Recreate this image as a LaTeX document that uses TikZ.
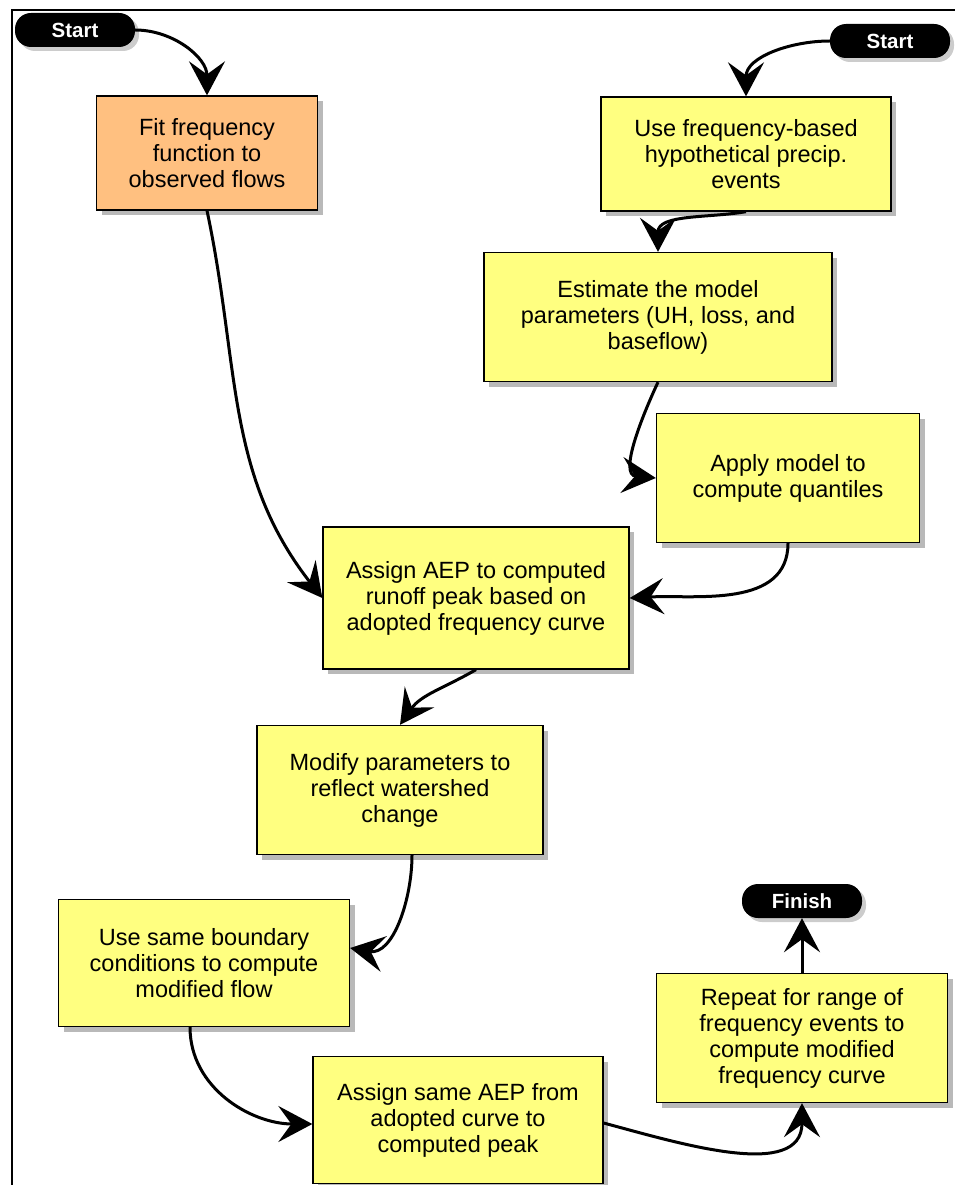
\documentclass[tikz,border=0pt]{standalone}
\usepackage{fontspec}
\setmainfont{Liberation Sans}
\usepackage{tikz}
\usetikzlibrary{arrows.meta}
\usetikzlibrary{shadows}
\definecolor{boxyellow}{RGB}{255,255,128}
\definecolor{boxorange}{RGB}{255,192,128}
\tikzset{>=latex}
\tikzstyle{stepbox} = [draw = black, line width = 1.3pt, fill = boxyellow, inner sep = 0, align = center, font = \fontsize{23.5}{26}\selectfont, drop shadow = {shadow xshift = 5pt, shadow yshift = -5pt, fill = black!55}]
\tikzstyle{term} = [fill = black, rounded corners = 16pt, inner sep = 0, minimum width = 120pt, minimum height = 34pt, text = white, font = \fontsize{20.5}{24}\selectfont\bfseries, drop shadow = {shadow xshift = 4pt, shadow yshift = -4pt, fill = black!40}]
\tikzstyle{flow} = [-{Stealth[length = 34pt, width = 36pt, inset = 13pt]}, line width = 3pt]

\begin{document}
\begin{tikzpicture}[x = 1pt, y = -1pt]
\useasboundingbox (0, 0) rectangle (955, 1185);
\draw [line width = 2.5pt] (12, 1185) -- (12, 10) -- (955, 10);

\node [term] (s1) at (75, 30) {Start};
\node [term] (s2) at (890, 41) {Start};
\node [term] (fin) at (802, 901) {Finish};

\node [stepbox, fill = boxorange, minimum width = 221pt, minimum height = 114pt] (fit) at (207, 153) {Fit frequency\\function to\\observed flows};
\node [stepbox, minimum width = 290pt, minimum height = 114pt] (use) at (746, 154) {Use frequency-based\\hypothetical precip.\\events};
\node [stepbox, minimum width = 348pt, minimum height = 129pt] (est) at (658, 317) {Estimate the model\\parameters (UH, loss, and\\baseflow)};
\node [stepbox, minimum width = 263pt, minimum height = 129pt] (apply) at (788, 478) {Apply model to\\compute quantiles};
\node [stepbox, minimum width = 306pt, minimum height = 142pt] (aep) at (476, 598) {Assign AEP to computed\\runoff peak based on\\adopted frequency curve};
\node [stepbox, minimum width = 286pt, minimum height = 129pt] (mod) at (400, 790) {Modify parameters to\\reflect watershed\\change};
\node [stepbox, minimum width = 291pt, minimum height = 127pt] (bnd) at (204, 963) {Use same boundary\\conditions to compute\\modified flow};
\node [stepbox, minimum width = 290pt, minimum height = 127pt] (asm) at (458, 1120) {Assign same AEP from\\adopted curve to\\computed peak};
\node [stepbox, minimum width = 291pt, minimum height = 129pt] (rep) at (802, 1038) {Repeat for range of\\frequency events to\\compute modified\\frequency curve};

\draw [flow] (s1.east) to [out = 0, in = 90] (fit.north);
\draw [flow] (s2.west) to [out = 180, in = 90] (use.north);
\draw [flow] (use.south) to [out = 190, in = 90] (est.north);
\draw [flow] (est.south) to [out = -115, in = 175] (apply.west);
\draw [flow] (fit.south) to [out = -78, in = 128] (aep.west);
\draw [flow] (apply.south) to [out = -90, in = 3] (aep.east);
\draw [flow] (aep.south) to [out = -150, in = 55] (mod.north);
\draw [flow] ([xshift = 12pt] mod.south) to [out = -90, in = -10] ([yshift = 15pt] bnd.east);
\draw [flow] ([xshift = -14pt] bnd.south) to [out = -90, in = 180] ([yshift = -4pt] asm.west);
\draw [flow] ([yshift = -3pt] asm.east) to [out = -15, in = -90] (rep.south);
\draw [flow] (rep.north) -- (fin.south);
\end{tikzpicture}
\end{document}
